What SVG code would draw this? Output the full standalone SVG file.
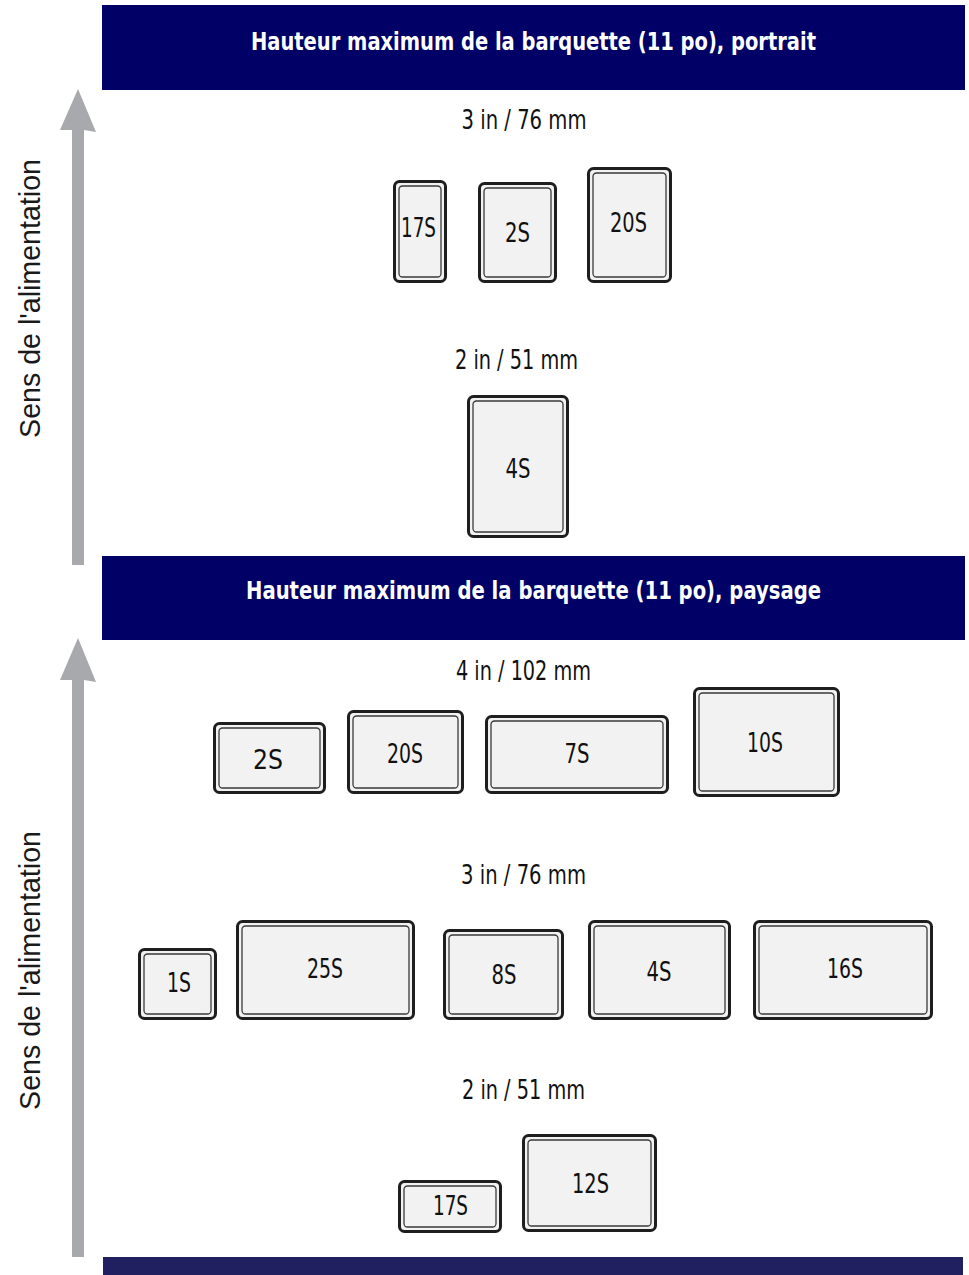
<svg xmlns="http://www.w3.org/2000/svg" width="969" height="1275" viewBox="0 0 969 1275">
<style>
.hdr{fill:#000066}
.htxt{font-family:"DejaVu Sans","Liberation Sans",sans-serif;font-stretch:condensed;font-weight:bold;font-size:24px;fill:#ffffff;text-anchor:middle}
.side{font-family:"Liberation Sans",Arial,sans-serif;font-size:28.6px;fill:#1a1a1a;text-anchor:middle}
.dim{font-family:"DejaVu Sans","Liberation Sans",sans-serif;font-stretch:condensed;font-size:27px;fill:#111;text-anchor:middle}
.lbl{font-family:"DejaVu Sans","Liberation Sans",sans-serif;font-stretch:condensed;font-size:27px;fill:#111;text-anchor:middle}
.out{fill:#f2f2f2;stroke:#1e1e1e;stroke-width:3}
.in{fill:none;stroke:#3a3a3a;stroke-width:1.3}
.arr{fill:#a7a9ac}
</style>
<rect width="969" height="1275" fill="#ffffff"/>

<g id="header1"><rect class="hdr" x="102" y="5" width="863" height="85"/><text class="htxt" x="533.5" y="50" textLength="565" lengthAdjust="spacingAndGlyphs">Hauteur maximum de la barquette (11 po), portrait</text></g>
<g id="header2"><rect class="hdr" x="102" y="556" width="863" height="84"/><text class="htxt" x="533.5" y="599" textLength="575" lengthAdjust="spacingAndGlyphs">Hauteur maximum de la barquette (11 po), paysage</text></g>
<g id="footer"><rect x="103" y="1257" width="860" height="18" fill="#201f5f"/></g>

<g id="connectors">
<path class="arr" d="M72,565 V130 H60 L78,89 L96,132 L84,130 V565 Z"/>
<path class="arr" d="M72,1257 V680 H60 L78,638 L96,682 L84,680 V1257 Z"/>
</g>

<g id="side1"><text class="side" transform="translate(40,298.5) rotate(-90)">Sens de l'alimentation</text></g>
<g id="side2"><text class="side" transform="translate(40,970.5) rotate(-90)">Sens de l'alimentation</text></g>

<g id="dim1"><text class="dim" x="524" y="129" textLength="125" lengthAdjust="spacingAndGlyphs">3 in / 76 mm</text></g>
<g id="dim2"><text class="dim" x="516.5" y="369" textLength="123" lengthAdjust="spacingAndGlyphs">2 in / 51 mm</text></g>
<g id="dim3"><text class="dim" x="523.5" y="680" textLength="135" lengthAdjust="spacingAndGlyphs">4 in / 102 mm</text></g>
<g id="dim4"><text class="dim" x="523.5" y="884" textLength="125" lengthAdjust="spacingAndGlyphs">3 in / 76 mm</text></g>
<g id="dim5"><text class="dim" x="523.5" y="1099" textLength="123" lengthAdjust="spacingAndGlyphs">2 in / 51 mm</text></g>

<g id="p17S"><rect class="out" x="394.5" y="181.5" width="51" height="100" rx="5"/><rect class="in" x="399" y="186" width="42" height="91" rx="3.5"/><text class="lbl" x="418.5" y="237" textLength="35" lengthAdjust="spacingAndGlyphs">17S</text></g>
<g id="p2S"><rect class="out" x="479.5" y="183.5" width="76" height="98" rx="5"/><rect class="in" x="484" y="188" width="67" height="89" rx="3.5"/><text class="lbl" x="517.5" y="242" textLength="25" lengthAdjust="spacingAndGlyphs">2S</text></g>
<g id="p20S"><rect class="out" x="588.5" y="168.5" width="82" height="113" rx="5"/><rect class="in" x="593" y="173" width="73" height="104" rx="3.5"/><text class="lbl" x="628.5" y="232" textLength="37" lengthAdjust="spacingAndGlyphs">20S</text></g>
<g id="p4S"><rect class="out" x="468.5" y="396.5" width="99" height="140" rx="5"/><rect class="in" x="473" y="401" width="90" height="131" rx="3.5"/><text class="lbl" x="518" y="478" textLength="25" lengthAdjust="spacingAndGlyphs">4S</text></g>

<g id="l2S"><rect class="out" x="214.5" y="723.5" width="110" height="69" rx="5"/><rect class="in" x="219" y="728" width="101" height="60" rx="3.5"/><text class="lbl" x="268" y="769" textLength="30" lengthAdjust="spacingAndGlyphs">2S</text></g>
<g id="l20S"><rect class="out" x="348.5" y="711.5" width="114" height="81" rx="5"/><rect class="in" x="353" y="716" width="105" height="72" rx="3.5"/><text class="lbl" x="405" y="763" textLength="36" lengthAdjust="spacingAndGlyphs">20S</text></g>
<g id="l7S"><rect class="out" x="486.5" y="716.5" width="181" height="76" rx="5"/><rect class="in" x="491" y="721" width="172" height="67" rx="3.5"/><text class="lbl" x="577" y="763" textLength="25" lengthAdjust="spacingAndGlyphs">7S</text></g>
<g id="l10S"><rect class="out" x="694.5" y="688.5" width="144" height="107" rx="5"/><rect class="in" x="699" y="693" width="135" height="98" rx="3.5"/><text class="lbl" x="765" y="752" textLength="36" lengthAdjust="spacingAndGlyphs">10S</text></g>
<g id="l1S"><rect class="out" x="139.5" y="949.5" width="76" height="69" rx="5"/><rect class="in" x="144" y="954" width="67" height="60" rx="3.5"/><text class="lbl" x="179" y="992" textLength="24" lengthAdjust="spacingAndGlyphs">1S</text></g>
<g id="l25S"><rect class="out" x="237.5" y="921.5" width="176" height="97" rx="5"/><rect class="in" x="242" y="926" width="167" height="88" rx="3.5"/><text class="lbl" x="325" y="978" textLength="36" lengthAdjust="spacingAndGlyphs">25S</text></g>
<g id="l8S"><rect class="out" x="444.5" y="930.5" width="118" height="88" rx="5"/><rect class="in" x="449" y="935" width="109" height="79" rx="3.5"/><text class="lbl" x="504" y="984" textLength="25" lengthAdjust="spacingAndGlyphs">8S</text></g>
<g id="l4S"><rect class="out" x="589.5" y="921.5" width="140" height="97" rx="5"/><rect class="in" x="594" y="926" width="131" height="88" rx="3.5"/><text class="lbl" x="659" y="981" textLength="25" lengthAdjust="spacingAndGlyphs">4S</text></g>
<g id="l16S"><rect class="out" x="754.5" y="921.5" width="177" height="97" rx="5"/><rect class="in" x="759" y="926" width="168" height="88" rx="3.5"/><text class="lbl" x="845" y="978" textLength="36" lengthAdjust="spacingAndGlyphs">16S</text></g>
<g id="l17S"><rect class="out" x="399.5" y="1181.5" width="101" height="50" rx="5"/><rect class="in" x="404" y="1186" width="92" height="41" rx="3.5"/><text class="lbl" x="450.5" y="1215" textLength="35" lengthAdjust="spacingAndGlyphs">17S</text></g>
<g id="l12S"><rect class="out" x="523.5" y="1135.5" width="132" height="95" rx="5"/><rect class="in" x="528" y="1140" width="123" height="86" rx="3.5"/><text class="lbl" x="590.5" y="1193" textLength="37" lengthAdjust="spacingAndGlyphs">12S</text></g>
</svg>
